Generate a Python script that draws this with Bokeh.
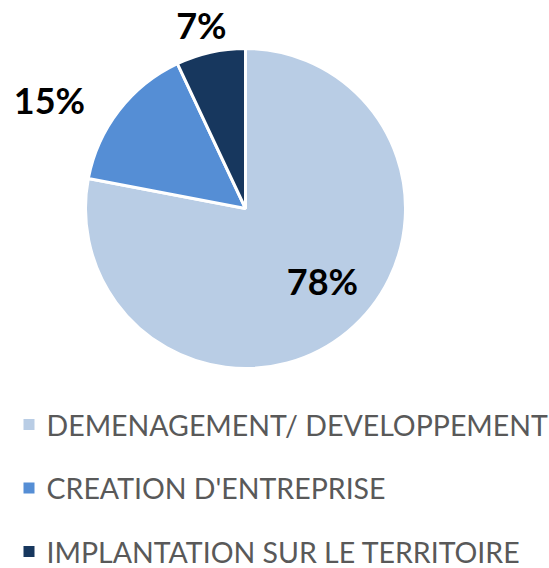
import math
from bokeh.plotting import figure
from bokeh.models import Range1d, ColumnDataSource
from bokeh.core.properties import value
from bokeh.embed import file_html
from bokeh.resources import INLINE

# ---- data ----
categories = ["DEMENAGEMENT/ DEVELOPPEMENT", "CREATION D'ENTREPRISE", "IMPLANTATION SUR LE TERRITOIRE"]
shares = [78, 15, 7]
labels = ["78%", "15%", "7%"]
colors = ["#B9CDE5", "#558ED5", "#17375E"]

# ---- layout (screen pixels, y measured downward) ----
W, H = 549, 568
CX, CY, R = 245, 208, 160
LABEL_POLAR = [(-43.5, 106), (151.1, 224), (103.5, 189)]  # label angle (deg), distance from centre
LEG_X_BOX, LEG_X_TEXT = 28.5, 46
LEG_Y0, LEG_DY = 424, 63.5

p = figure(width=W, height=H, x_range=Range1d(0, W), y_range=Range1d(-H, 0),
           x_axis_type=None, y_axis_type=None, toolbar_location=None,
           output_backend="svg", min_border=0)
p.grid.visible = False
p.outline_line_color = None
p.background_fill_color = "white"
p.border_fill_color = "white"

total = sum(shares)
cum = 0
starts, ends = [], []
for s in shares:
    starts.append(math.pi / 2 - 2 * math.pi * cum / total)
    cum += s
    ends.append(math.pi / 2 - 2 * math.pi * cum / total)

src = ColumnDataSource(dict(start=starts, end=ends, color=colors))
p.wedge(x=CX, y=-CY, radius=R, start_angle="start", end_angle="end", direction="clock",
        fill_color="color", line_color="white", line_width=3, source=src)

lx = [CX + d * math.cos(math.radians(a)) for a, d in LABEL_POLAR]
ly = [-CY + d * math.sin(math.radians(a)) for a, d in LABEL_POLAR]
p.text(x=lx, y=ly, text=labels, text_font=value("Lato"), text_font_style="bold",
       text_font_size="36px", text_align="center", text_baseline="middle", text_color="black")

ys = [-(LEG_Y0 + i * LEG_DY) for i in range(len(categories))]
p.rect(x=[LEG_X_BOX] * len(categories), y=ys, width=11, height=11, fill_color=colors, line_color=None)
p.text(x=[LEG_X_TEXT] * len(categories), y=ys, text=categories, text_font=value("Lato"),
       text_font_size="28.5px", text_align="left", text_baseline="middle", text_color="#595959")

open("out.html", "w").write(file_html(p, INLINE))
